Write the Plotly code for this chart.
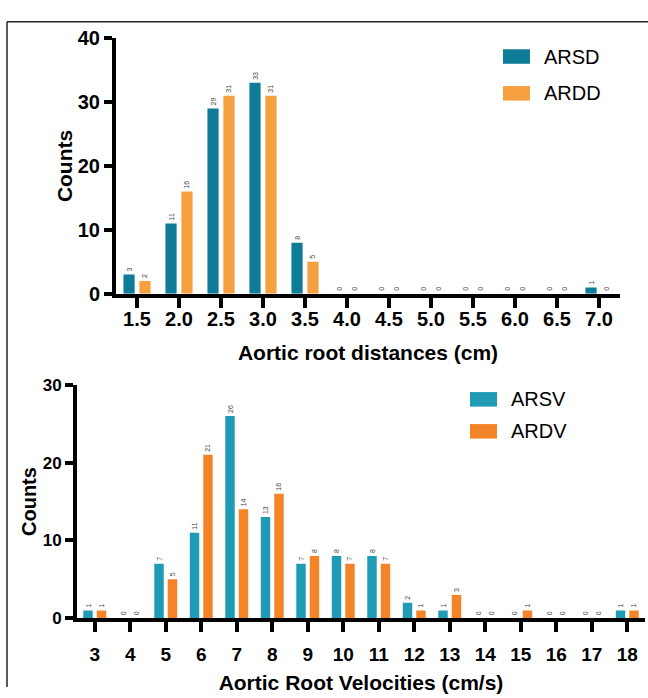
import plotly.graph_objects as go

# ---------------- data ----------------
dist_cats = ["1.5", "2.0", "2.5", "3.0", "3.5", "4.0", "4.5", "5.0", "5.5", "6.0", "6.5", "7.0"]
arsd = [3, 11, 29, 33, 8, 0, 0, 0, 0, 0, 0, 1]
ardd = [2, 16, 31, 31, 5, 0, 0, 0, 0, 0, 0, 0]

vel_cats = ["3", "4", "5", "6", "7", "8", "9", "10", "11", "12", "13", "14", "15", "16", "17", "18"]
arsv = [1, 0, 7, 11, 26, 13, 7, 8, 8, 2, 1, 0, 0, 0, 0, 1]
ardv = [1, 0, 5, 21, 14, 16, 8, 7, 7, 1, 3, 0, 1, 0, 0, 1]

top_names = ["ARSD", "ARDD"]
bot_names = ["ARSV", "ARDV"]
top_colors = ["#0E7C96", "#F7A040"]
bot_colors = ["#1F9BB6", "#F58428"]

W, H = 648, 698
FONT = "Liberation Sans, Arial, sans-serif"


def px_x(v):
    return v / W


def px_y(v):
    return 1 - v / H


fig = go.Figure()

for name, vals, col in zip(top_names, [arsd, ardd], top_colors):
    fig.add_trace(go.Bar(
        x=dist_cats, y=vals, name=name, marker_color=col, marker_line_width=0,
        text=[str(v) for v in vals], textposition="outside", textangle=-90,
        textfont=dict(size=7, color="#444444", family=FONT),
        cliponaxis=False, showlegend=False, xaxis="x", yaxis="y", offsetgroup=name,
    ))

for name, vals, col in zip(bot_names, [arsv, ardv], bot_colors):
    fig.add_trace(go.Bar(
        x=vel_cats, y=vals, name=name, marker_color=col, marker_line_width=0,
        text=[str(v) for v in vals], textposition="outside", textangle=-90,
        textfont=dict(size=7, color="#444444", family=FONT),
        cliponaxis=False, showlegend=False, xaxis="x2", yaxis="y2", offsetgroup=name,
    ))

axis_common = dict(showline=True, linecolor="black", linewidth=4, ticks="outside",
                   tickcolor="black", tickwidth=4, showgrid=False, zeroline=False,
                   mirror=False)

fig.update_layout(
    width=W, height=H, margin=dict(l=0, r=0, t=0, b=0),
    paper_bgcolor="white", plot_bgcolor="white",
    barmode="group", bargap=0.24, bargroupgap=0.3,
    font=dict(family=FONT, color="black"),
    xaxis=dict(domain=[px_x(116), px_x(620)], anchor="y", type="category",
               range=[-0.5, 11.5], ticklen=10, ticklabelstandoff=-6,
               tickfont=dict(size=20, weight="bold"),
               title=dict(text="Aortic root distances (cm)", font=dict(size=21, weight="bold"), standoff=18),
               **axis_common),
    yaxis=dict(domain=[px_y(292), px_y(28)], anchor="x", range=[0, 40],
               tickvals=[0, 10, 20, 30, 40], ticklen=8,
               tickfont=dict(size=20, weight="bold"),
               title=dict(text="Counts", font=dict(size=21, weight="bold"), standoff=0),
               **axis_common),
    xaxis2=dict(domain=[px_x(77), px_x(645)], anchor="y2", type="category",
                range=[-0.5, 15.5], ticklen=10, ticklabelstandoff=6,
                tickfont=dict(size=19, weight="bold"),
                title=dict(text="Aortic Root Velocities (cm/s)", font=dict(size=21, weight="bold"), standoff=12),
                **axis_common),
    yaxis2=dict(domain=[px_y(627), px_y(386)], anchor="x2", range=[0, 30],
                tickvals=[0, 10, 20, 30], ticklen=8,
                tickfont=dict(size=17, weight="bold"),
                title=dict(text="Counts", font=dict(size=20, weight="bold"), standoff=2),
                **axis_common),
)

# frame (top + left border)
fig.add_shape(type="line", xref="paper", yref="paper", x0=px_x(7), x1=1.0, y0=px_y(11), y1=px_y(11),
              line=dict(color="#222222", width=1.5))
fig.add_shape(type="line", xref="paper", yref="paper", x0=px_x(7), x1=px_x(7), y0=px_y(11), y1=0,
              line=dict(color="#222222", width=1.5))

# legends drawn as swatches + text
def legend(names, colors, x0, ys, sw=27, sh=15):
    for n, c, yc in zip(names, colors, ys):
        fig.add_shape(type="rect", xref="paper", yref="paper",
                      x0=px_x(x0), x1=px_x(x0 + sw), y0=px_y(yc + sh / 2), y1=px_y(yc - sh / 2),
                      fillcolor=c, line=dict(width=0))
        fig.add_annotation(xref="paper", yref="paper", x=px_x(x0 + sw + 12), y=px_y(yc),
                           text=n, showarrow=False, xanchor="left", yanchor="middle",
                           font=dict(size=20, color="black", family=FONT))

legend(top_names, top_colors, 503, [47, 85])
legend(bot_names, bot_colors, 470, [401, 434])

fig.write_html("out.html")
